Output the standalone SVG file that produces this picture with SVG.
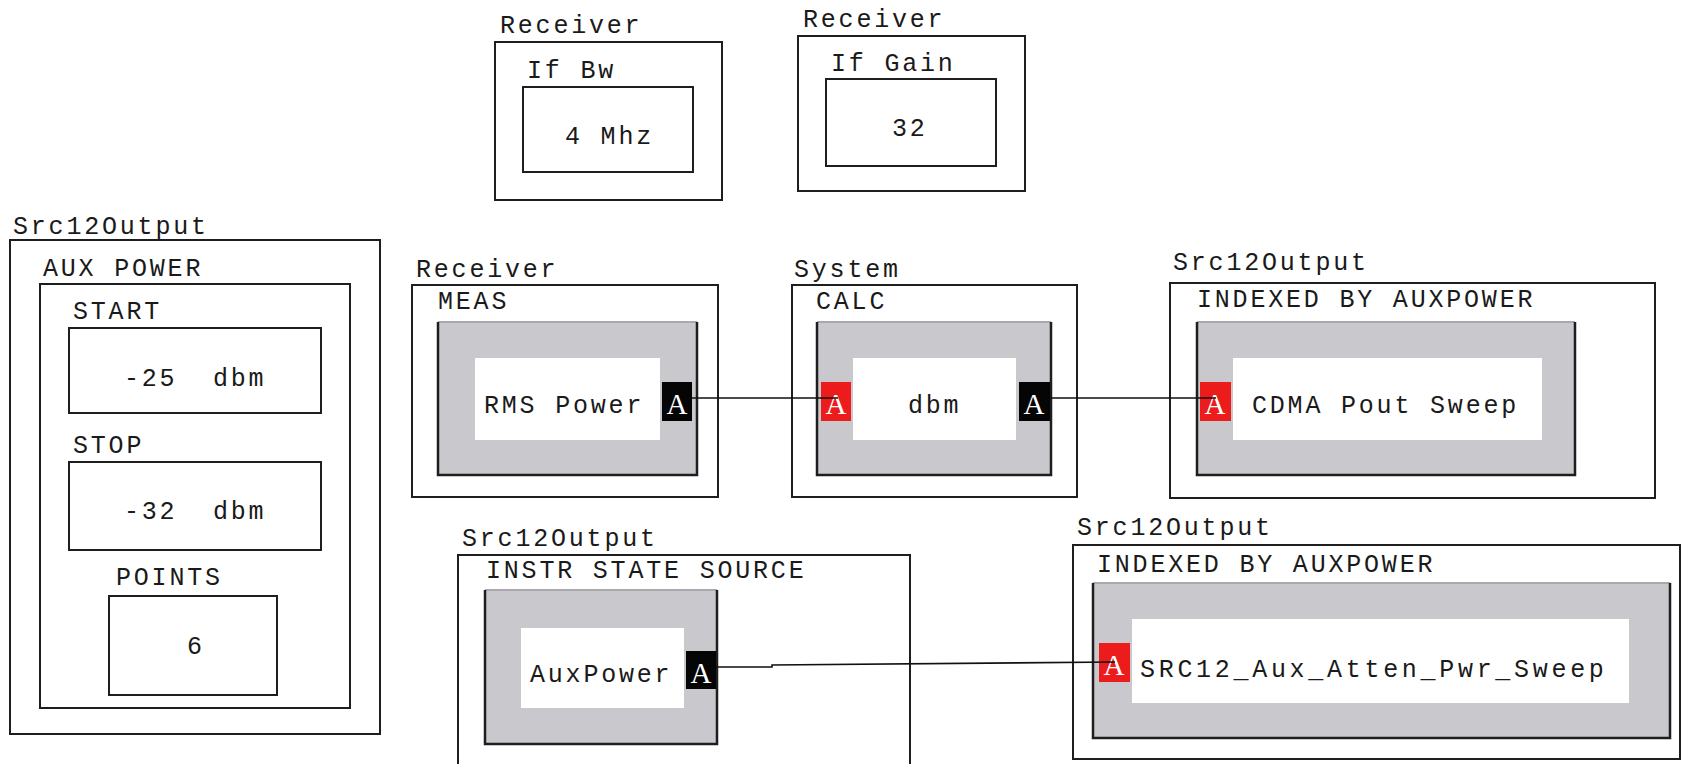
<svg xmlns="http://www.w3.org/2000/svg" width="1683" height="764" viewBox="0 0 1683 764">
<style>
text{font-family:"Courier New","Liberation Mono",monospace;font-size:25px;letter-spacing:2.8px;fill:#1a1a1a}
.box{fill:none;stroke:#1e1e1e;stroke-width:2}
.gray{fill:#c9c9cd;stroke:none}
.gedge{fill:none;stroke:#1e1e1e;stroke-width:2.5}
.gtop{stroke:#a9a9ad;stroke-width:2}
.white{fill:#fff}
.pblack{fill:#050505}
.pred{fill:#ec1c1c}
.pa{fill:#fff;font-family:"Liberation Serif",serif;font-size:29px;letter-spacing:0;text-anchor:middle}
.wire{fill:none;stroke:#111;stroke-width:1.6}
</style>
<rect width="1683" height="764" fill="#fff"/>

<g id="recv-ifbw">
<text x="500" y="33">Receiver</text>
<rect class="box" x="495" y="42" width="227" height="158"/>
<text x="527" y="78">If Bw</text>
<rect class="box" x="523" y="87" width="170" height="85"/>
<text x="565" y="144">4 Mhz</text>
</g>

<g id="recv-ifgain">
<text x="803" y="27">Receiver</text>
<rect class="box" x="798" y="36" width="227" height="155"/>
<text x="831" y="71">If Gain</text>
<rect class="box" x="826" y="79" width="170" height="87"/>
<text x="892" y="136">32</text>
</g>

<g id="aux-power">
<text x="13" y="234">Src12Output</text>
<rect class="box" x="10" y="240" width="370" height="494"/>
<text x="43" y="276">AUX POWER</text>
<rect class="box" x="40" y="284" width="310" height="424"/>
<text x="73" y="319">START</text>
<rect class="box" x="69" y="328" width="252" height="85"/>
<text x="124" y="386" xml:space="preserve">-25  dbm</text>
<text x="73" y="453">STOP</text>
<rect class="box" x="69" y="462" width="252" height="88"/>
<text x="124" y="519" xml:space="preserve">-32  dbm</text>
<text x="116" y="585">POINTS</text>
<rect class="box" x="109" y="596" width="168" height="99"/>
<text x="187" y="654">6</text>
</g>

<g id="meas">
<text x="416" y="277">Receiver</text>
<rect class="box" x="412" y="285" width="306" height="212"/>
<text x="438" y="309">MEAS</text>
<rect class="gray" x="438" y="322" width="259" height="153"/>
<line class="gtop" x1="438" y1="322" x2="697" y2="322"/>
<polyline class="gedge" points="438,322 438,475 697,475 697,322"/>
<rect class="white" x="475" y="358" width="185" height="82"/>
<text x="484" y="413">RMS Power</text>
<rect class="pblack" x="662" y="382" width="30" height="39"/>
<text class="pa" x="677" y="414">A</text>
</g>

<g id="calc">
<text x="794" y="277">System</text>
<rect class="box" x="792" y="285" width="285" height="212"/>
<text x="816" y="309">CALC</text>
<rect class="gray" x="817" y="322" width="234" height="153"/>
<line class="gtop" x1="817" y1="322" x2="1051" y2="322"/>
<polyline class="gedge" points="817,322 817,475 1051,475 1051,322"/>
<rect class="white" x="853" y="358" width="163" height="82"/>
<text x="908" y="413">dbm</text>
<rect class="pred" x="821" y="382" width="30" height="39"/>
<text class="pa" x="836" y="414">A</text>
<rect class="pblack" x="1019" y="382" width="31" height="39"/>
<text class="pa" x="1034" y="414">A</text>
</g>

<g id="cdma-sweep">
<text x="1173" y="270">Src12Output</text>
<rect class="box" x="1170" y="283" width="485" height="215"/>
<text x="1197" y="307">INDEXED BY AUXPOWER</text>
<rect class="gray" x="1197" y="322" width="378" height="153"/>
<line class="gtop" x1="1197" y1="322" x2="1575" y2="322"/>
<polyline class="gedge" points="1197,322 1197,475 1575,475 1575,322"/>
<rect class="white" x="1233" y="358" width="309" height="82"/>
<text x="1252" y="413">CDMA Pout Sweep</text>
<rect class="pred" x="1200" y="382" width="31" height="39"/>
<text class="pa" x="1215" y="414">A</text>
</g>

<g id="instr-state">
<text x="462" y="546">Src12Output</text>
<rect class="box" x="458" y="555" width="452" height="230"/>
<text x="486" y="578">INSTR STATE SOURCE</text>
<rect class="gray" x="485" y="590" width="232" height="154"/>
<line class="gtop" x1="485" y1="590" x2="717" y2="590"/>
<polyline class="gedge" points="485,590 485,744 717,744 717,590"/>
<rect class="white" x="521" y="628" width="163" height="80"/>
<text x="530" y="682">AuxPower</text>
<rect class="pblack" x="686" y="651" width="30" height="38"/>
<text class="pa" x="701" y="683">A</text>
</g>

<g id="src12-sweep">
<text x="1077" y="535">Src12Output</text>
<rect class="box" x="1073" y="545" width="607" height="214"/>
<text x="1097" y="572">INDEXED BY AUXPOWER</text>
<rect class="gray" x="1093" y="583" width="577" height="155"/>
<line class="gtop" x1="1093" y1="583" x2="1670" y2="583"/>
<polyline class="gedge" points="1093,583 1093,738 1670,738 1670,583"/>
<rect class="white" x="1132" y="619" width="497" height="84"/>
<text x="1140" y="677" style="letter-spacing:3.7px">SRC12_Aux_Atten_Pwr_Sweep</text>
<rect class="pred" x="1099" y="643" width="31" height="39"/>
<text class="pa" x="1114" y="675">A</text>
</g>

<g id="connectors">
<polyline class="wire" points="692,398 838,398"/>
<polyline class="wire" points="1050,398 1216,398"/>
<polyline class="wire" points="716,667 772,667 772,665 1115,662"/>
</g>
</svg>
